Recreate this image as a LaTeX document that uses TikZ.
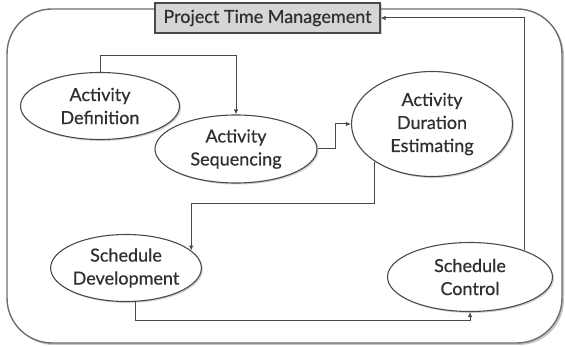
\documentclass[tikz,border=0pt]{standalone}
\usepackage{fontspec}
\setmainfont{Lato}[FakeBold=0.6]
\usetikzlibrary{shapes.geometric,shadows,arrows.meta}
\definecolor{inkline}{HTML}{4A4A4A}
\definecolor{inktext}{HTML}{303030}
\definecolor{framegray}{HTML}{6E6E6E}
\definecolor{boxfill}{HTML}{D6D6D6}
\begin{document}
\begin{tikzpicture}[x=1pt,y=-1pt,
  proc/.style={ellipse, draw=inkline, line width=1.1pt, fill=white,
    text=inktext, align=center, inner sep=0pt,
    font=\fontsize{18}{23}\selectfont,
    drop shadow={shadow xshift=1.5pt, shadow yshift=-1.5pt, opacity=0.35}},
  titlebox/.style={rectangle, draw=inkline, line width=1.1pt, fill=boxfill,
    text=inktext, inner sep=0pt, font=\fontsize{18}{23}\selectfont,
    minimum width=225pt, minimum height=30pt,
    drop shadow={shadow xshift=1.5pt, shadow yshift=-1.5pt, opacity=0.35}},
  frame/.style={rectangle, draw=framegray, line width=1.4pt, fill=white,
    rounded corners=45pt, minimum width=555pt, minimum height=334pt,
    drop shadow={shadow xshift=2pt, shadow yshift=-2pt, opacity=0.45}},
  link/.style={draw=inkline, line width=1pt,
    -{Latex[length=5pt,width=4.5pt]}}]
\useasboundingbox[fill=white] (0,0) rectangle (565,347);

% surrounding frame
\node[frame] (frame) at (284.5,176) {};

% process title
\node[titlebox] (PTM) at (267.5,18) {Project Time Management};

% processes
\node[proc, minimum width=159pt, minimum height=67pt] (AD)  at (100,106) {Activity\\Definition};
\node[proc, minimum width=162pt, minimum height=68pt] (SEQ) at (236,149) {Activity\\Sequencing};
\node[proc, minimum width=161pt, minimum height=105pt] (DUR) at (432,124) {Activity\\Duration\\Estimating};
\node[proc, minimum width=142pt, minimum height=67pt] (SD)  at (126,268) {Schedule\\Development};
\node[proc, minimum width=165pt, minimum height=69pt] (SC)  at (470,277) {Schedule\\Control};

% flow between processes
\draw[link] (AD.north) -- ++(0,-16) -| (SEQ.north);
\draw[link] (SEQ.east) -- ++(18,0) |- (DUR.west);
\draw[link] (DUR.south west) -- ++(0,42) -| (SD.15);
\draw[link] (SD.-75) -- ++(0,19) -| (SC.south);
\draw[link] (SC.26) |- (PTM.east);
\end{tikzpicture}
\end{document}
